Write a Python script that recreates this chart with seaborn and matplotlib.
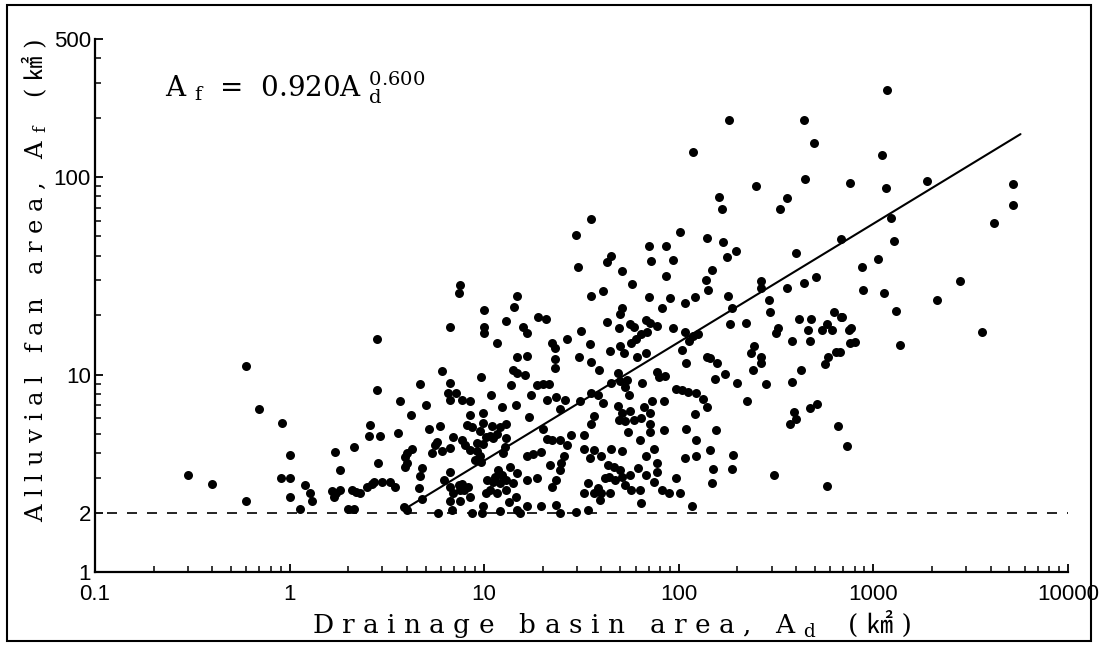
import numpy as np
import pandas as pd
import matplotlib
matplotlib.use("Agg")
import matplotlib.pyplot as plt
import seaborn as sns
from matplotlib.ticker import FixedLocator, LogLocator, NullFormatter, FixedFormatter
from matplotlib.patches import Rectangle

# drainage basin area Ad (km2) and alluvial fan area Af (km2)
basin_area = [
    0.30, 0.40, 0.60, 0.60, 0.70, 0.91, 1.0, 0.90, 1.0, 1.0, 1.13, 1.2, 1.28, 1.3,
    1.72, 1.82, 2.15, 1.65, 1.73, 1.7, 1.82, 2.0, 2.15, 2.1, 2.2, 2.3, 2.5, 2.65,
    2.7, 2.8, 2.8, 2.6, 2.55, 2.9, 2.85, 3.0, 3.3, 3.5, 3.6, 3.7, 4.2, 3.85, 4.0,
    4.7, 5.0, 4.0, 3.9, 4.0, 3.9, 4.7, 4.8, 4.6, 4.8, 5.2, 5.9, 5.6, 5.4, 6.1,
    6.65, 6.5, 6.7, 7.2, 7.7, 8.5, 9.6, 10.8, 6.9, 6.7, 7.7, 8.0, 8.45, 6.2, 6.7,
    6.9, 7.7, 7.9, 8.45, 7.5, 5.8, 6.8, 8.7, 9.8, 9.9, 9.9, 9.5, 10, 11.7, 7.5,
    7.4,
    14.7, 14.2, 10, 6.7, 10, 13, 15.8, 16.6, 19, 20.7, 22.3, 23, 14.7, 16.6, 14,
    14.7, 16.2, 13.8, 23, 23, 18.7, 20, 21.5, 17.5, 21, 23.5, 8.45, 8.2, 8.7,
    12.3, 14.5, 17, 13, 11, 12, 10.7, 11.7, 10.2, 9.9, 9.2, 11.1, 5.7, 6.1, 9.2,
    9.5, 9.0, 9.6, 12.9, 12.8, 12.5, 20, 21, 22.3, 16.6, 17.8, 19.5, 21.8, 4.25,
    6.7, 7.4, 8.3, 7.5, 6.7, 9.9, 10.4, 11.3, 11.8, 12.3, 12.9, 12.1, 11.1, 10.7,
    10.2, 11.6, 12.9, 13.6, 14.7, 14.1, 13.4, 14.5, 14.7, 16.6, 18.7, 16.6, 19.5,
    15.3, 22.3, 23.5, 12.1,
    35.6, 29.5, 30.5, 43, 44.8, 50.8, 57.8, 70, 86, 72, 93, 86, 101, 35.2, 41, 70,
    82, 90, 107, 121, 50.8, 49.9, 43, 49.3, 56, 58.7, 67.5, 71, 77, 31.6, 26.7,
    35, 49.9, 52, 57, 60, 64, 69, 44.3, 93, 107, 118, 113, 104, 30.7, 35.2, 39,
    61, 68, 109, 48.7, 54, 77, 79, 85, 45, 50, 53, 55.5, 65, 97, 104, 112, 122,
    35.2, 38.6, 41, 26, 24.6, 31, 48.7, 50.8, 56, 49.3, 53, 58.7, 64, 66.5, 73,
    71, 84, 36.5, 35.6, 32.5, 28, 71, 71, 84, 109, 54.8, 63, 75, 67.5, 24.5, 26.7,
    32.5, 35, 36.5, 40, 44.8, 50.8, 25.7, 24.8, 24.5, 43.5, 46.5, 49.9, 44, 42,
    47, 50.8, 56, 62, 67.5, 77, 77, 75, 107, 97, 122, 122, 34, 38.5, 44.3, 40,
    36.5, 32.5, 53, 56.5, 63, 64, 82, 89, 101, 39.4, 34, 29.5, 24.5, 23.5, 117,
    250, 160, 167, 360, 331, 445, 758, 139, 168, 176, 196, 400, 678, 149, 138,
    142, 265, 263, 360, 438, 508, 180, 188, 184, 292, 294, 222, 414, 480, 464,
    472, 383, 325, 316, 543, 576, 610, 626, 678, 748, 755, 125, 139, 144, 157,
    172, 153, 199, 243, 236, 265, 263, 240, 280, 225, 427, 382, 585, 564, 642,
    390, 400, 373, 472, 514, 133, 139, 121, 155, 144, 191, 188, 150, 148, 308,
    578, 658, 728,
    1180, 1110, 1160, 1890, 5200, 5200, 4150, 1230, 1275, 1050, 870, 880, 1140,
    1300, 2800, 2130, 690, 770, 800, 670, 1370, 3600,
    182, 438, 497, 118,
]
fan_area = [
    3.1, 2.8, 11.0, 2.3, 6.7, 5.7, 3.9, 3.0, 3.0, 2.4, 2.08, 2.75, 2.5, 2.3,
    4.05, 3.3, 4.3, 2.57, 2.5, 2.4, 2.6, 2.08, 2.08, 2.6, 2.55, 2.5, 2.7, 2.8,
    2.85, 15.1, 8.3, 5.55, 4.9, 4.9, 3.55, 2.87, 2.87, 2.7, 5.05, 7.3, 6.2, 2.14,
    2.06, 8.95, 7.0, 4.0, 3.8, 3.55, 3.4, 3.05, 3.35, 2.65, 2.35, 5.3, 5.5, 4.4,
    4.0, 10.4, 9.1, 8.1, 7.4, 8.1, 7.4, 7.35, 9.7, 7.9, 4.8, 4.25, 4.65, 4.4,
    4.15, 2.92, 2.7, 2.5, 2.8, 2.6, 2.4, 2.3, 2.0, 2.06, 2.0, 2.0, 6.4, 5.7, 5.2,
    16.2, 14.4, 28.3, 26.0,
    25, 22, 21.2, 17.3, 17.5, 18.7, 17.5, 16.3, 19.5, 19.1, 14.4, 13.6, 12.2,
    12.4, 10.6, 10.2, 9.9, 8.85, 12, 10.8, 8.8, 9.0, 9.0, 7.9, 7.4, 7.7, 6.2,
    5.55, 5.45, 6.85, 7.0, 6.1, 5.6, 5.5, 5.45, 4.9, 4.98, 4.8, 4.45, 4.5, 4.75,
    4.55, 4.1, 4.1, 3.85, 3.7, 3.6, 4.75, 4.3, 4.0, 5.3, 4.7, 4.65, 3.86, 3.96,
    4.07, 3.47, 4.2, 3.2, 2.76, 2.7, 2.6, 2.3, 2.15, 2.92, 3.04, 3.28, 3.1, 2.92,
    2.81, 2.86, 2.6, 2.5, 2.5, 2.6, 3.42, 3.17, 2.81, 2.27, 2.4, 2.06, 2.92, 2.98,
    2.15, 2.15, 2.0, 2.69, 2.92, 2.04,
    61, 51, 35.1, 37, 39.6, 33.3, 28.6, 44.5, 44.5, 37.6, 38, 31.5, 52.5, 25,
    26.5, 24.7, 21.8, 24.3, 23.1, 24.7, 21.8, 20.2, 18.5, 17.1, 18, 17.5, 18.9,
    18.2, 17.6, 16.6, 15.1, 14.3, 14, 12.9, 14.4, 15.1, 16.1, 16.5, 13.2, 17.1,
    16.5, 15.6, 14.7, 13.3, 12.2, 11.6, 10.6, 12.3, 12.9, 11.4, 10.2, 9.4, 10.3,
    9.7, 9.8, 9.1, 9.3, 8.65, 7.9, 9.1, 8.4, 8.3, 8.2, 8.1, 8.05, 7.9, 7.15, 7.4,
    6.65, 7.3, 6.9, 6.35, 6.55, 5.9, 5.8, 5.85, 6.0, 6.85, 7.3, 6.35, 7.3, 6.15,
    5.6, 4.95, 4.95, 5.6, 5.13, 5.24, 5.3, 5.1, 4.66, 4.2, 3.85, 4.66, 4.4, 4.2,
    3.76, 4.15, 3.85, 4.2, 4.1, 3.85, 3.55, 3.28, 3.48, 3.42, 3.28, 3.04, 2.99,
    2.92, 3.04, 3.1, 3.35, 3.1, 3.55, 3.22, 2.86, 3.76, 2.99, 3.85, 4.66, 2.81,
    2.65, 2.5, 2.5, 2.5, 2.5, 2.76, 2.6, 2.6, 2.23, 2.6, 2.52, 2.5, 2.31, 2.06,
    2.02, 1.98, 2.18, 2.16,
    89.8, 78.8, 68.5, 78, 68.5, 98, 93, 49, 47, 39.5, 42.3, 41.2, 48.3, 34, 30,
    26.8, 29.8, 27.4, 27.4, 29, 31, 25, 21.6, 18.1, 23.8, 20.7, 18.3, 19.2, 19.2,
    16.8, 14.7, 14.7, 17.1, 16.2, 16.8, 18.1, 16.8, 20.8, 19.6, 16.9, 14.5, 16.1,
    12.3, 12.1, 11.4, 10.1, 9.5, 9.05, 14, 12.8, 12.2, 11.4, 10.6, 8.95, 7.3,
    10.5, 9.2, 12.3, 11.3, 13, 6.48, 5.93, 5.6, 6.8, 7.06, 7.5, 6.85, 6.3, 5.24,
    4.17, 3.9, 3.33, 3.33, 2.83, 3.08, 2.73, 5.5, 4.35,
    276, 130, 87.5, 95.7, 92, 72.5, 58.3, 61.7, 47.5, 38.4, 35, 26.8, 26, 21,
    29.7, 23.8, 19.6, 17.1, 14.6, 13, 14.1, 16.5,
    194, 195, 149, 134,
]

# fitted relation Af = 0.920 Ad^0.600, drawn over the range of the line in the figure
fit_coef = 0.920
fit_exp = 0.600
fit_ends = [4.0, 5700.0]
fan_limit = 2.0

x_ticks = [0.1, 1, 10, 100, 1000, 10000]
x_labels = ["0.1", "1", "10", "100", "1000", "10000"]
y_ticks = [1, 2, 10, 100, 500]
y_labels = ["1", "2", "10", "100", "500"]

df = pd.DataFrame({"Ad": basin_area, "Af": fan_area})
fit = pd.DataFrame({"Ad": fit_ends})
fit["Af"] = fit_coef * fit["Ad"] ** fit_exp

sns.set_theme(style="white")
plt.rcParams['font.family'] = ['DejaVu Serif', 'Noto Sans CJK JP']
plt.rcParams['text.color'] = 'black'
plt.rcParams['mathtext.fontset'] = 'custom'
plt.rcParams['mathtext.rm'] = 'DejaVu Serif'
plt.rcParams['mathtext.default'] = 'rm'

fig = plt.figure(figsize=(10.99, 6.46), dpi=100)
ax = fig.add_axes([0.0864, 0.1146, 0.8854, 0.825])

sns.scatterplot(data=df, x="Ad", y="Af", ax=ax, color="black", s=42,
                linewidth=0, legend=False, zorder=3)
sns.lineplot(data=fit, x="Ad", y="Af", ax=ax, color="black", linewidth=1.5,
             legend=False)
ax.axhline(fan_limit, xmin=0.012, xmax=1.0, color="black", linewidth=1.2,
           linestyle=(0, (6, 6)))

ax.set_xscale("log")
ax.set_yscale("log")
ax.set_xlim(0.1, 10000)
ax.set_ylim(1, 500)

ax.xaxis.set_major_locator(FixedLocator(x_ticks))
ax.xaxis.set_major_formatter(FixedFormatter(x_labels))
ax.xaxis.set_minor_locator(LogLocator(base=10, subs=np.arange(2, 10), numticks=20))
ax.xaxis.set_minor_formatter(NullFormatter())
ax.yaxis.set_major_locator(FixedLocator(y_ticks))
ax.yaxis.set_major_formatter(FixedFormatter(y_labels))
ax.yaxis.set_minor_locator(LogLocator(base=10, subs=np.arange(2, 10), numticks=20))
ax.yaxis.set_minor_formatter(NullFormatter())

for side in ["top", "right"]:
    ax.spines[side].set_visible(False)
for side in ["left", "bottom"]:
    ax.spines[side].set_linewidth(1.6)
    ax.spines[side].set_color("black")

ax.tick_params(which="major", direction="in", length=6, width=1.3, colors="black",
               labelsize=16, left=True, bottom=True)
ax.tick_params(which="minor", direction="in", length=4, width=1.1, colors="black",
               left=True, bottom=True)
ax.tick_params(axis="x", which="major", pad=9)
ax.tick_params(axis="y", which="major", pad=3)
for lab in ax.get_xticklabels() + ax.get_yticklabels():
    lab.set_family(["Liberation Sans", "DejaVu Sans"])
ax.set_xlabel("")
ax.set_ylabel("")

ax.text(0.072, 0.893, r"A $_{\rm f}$  =  0.920A $_{\rm d}^{0.600}$", transform=ax.transAxes,
        fontsize=20, ha="left", va="baseline", color="black", family=["DejaVu Serif"])

# axis titles, with the km2 sign kept as its own text so the CJK font is used
fig.text(312 / 1099, 1 - 633 / 646,
         r"D r a i n a g e   b a s i n   a r e a ,   A $_{\rm d}$",
         ha="left", va="baseline", fontsize=19, color="black", family=["DejaVu Serif"])
fig.text(880 / 1099, 1 - 633 / 646, "( ㎢ )",
         ha="center", va="baseline", fontsize=19, color="black",
         family=["DejaVu Serif", "Noto Sans CJK JP"])
fig.text(36 / 1099, 1 - 522 / 646,
         r"A l l u v i a l   f a n   a r e a ,   A $_{\rm f}$",
         ha="center", va="bottom", rotation=90, fontsize=17.5, color="black",
         family=["DejaVu Serif"])
fig.text(36 / 1099, 1 - 68 / 646, "( ㎢ )",
         ha="center", va="center", rotation=90, fontsize=17.5, color="black",
         family=["DejaVu Serif", "Noto Sans CJK JP"])

fig.add_artist(Rectangle((7 / 1099, 5 / 646), 1084 / 1099, 636 / 646,
                         transform=fig.transFigure, fill=False,
                         edgecolor="black", linewidth=1.5))

fig.savefig("out.png", dpi=100, facecolor="white")
